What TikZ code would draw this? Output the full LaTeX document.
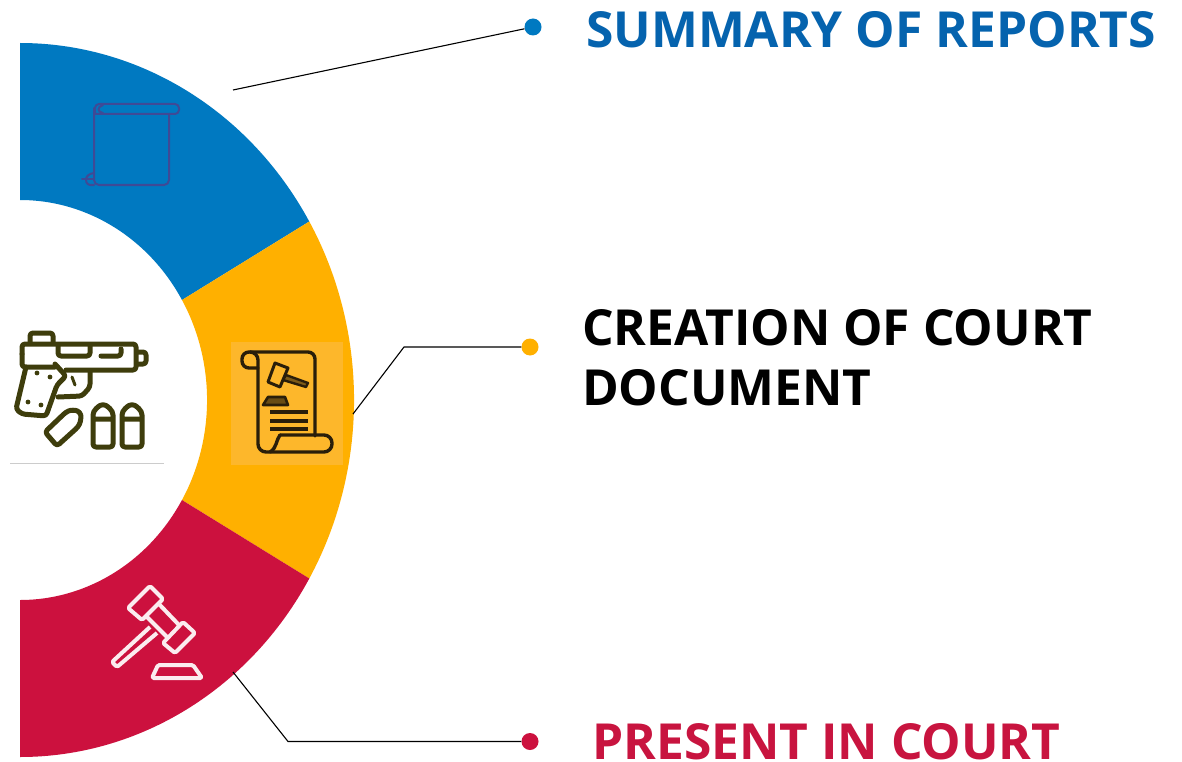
\documentclass[tikz,border=0pt]{standalone}
\usepackage{fontspec}
\setmainfont{Open Sans}
\definecolor{ringblue}{HTML}{0079C1}
\definecolor{ringamber}{HTML}{FFB000}
\definecolor{ringred}{HTML}{CC113E}
\definecolor{txtblue}{HTML}{0563AE}
\definecolor{txtred}{HTML}{C8143F}
\definecolor{gunc}{HTML}{3E3D0C}
\definecolor{docc}{HTML}{2A1E0A}
\definecolor{docbg}{HTML}{FDB72B}
\definecolor{scrollc}{HTML}{3F4A96}
\tikzset{
  x=1pt,y=-1pt,
  dotnode/.style={circle,inner sep=0pt,minimum size=17pt},
  leader/.style={black,line width=1.1pt},
  heading/.style={anchor=base west,inner sep=0pt,font=\fontsize{49.7}{60}\selectfont\bfseries},
  gunline/.style={gunc,line width=5pt,line join=round,line cap=round,rounded corners=3pt},
  docline/.style={docc,line width=3.4pt,line join=round,line cap=round},
  scrollline/.style={scrollc,line width=2pt,line join=round,line cap=round},
  gavelline/.style={white!92!ringred,line width=4pt,line join=round,rounded corners=1.5pt},
}
\begin{document}
\begin{tikzpicture}
\useasboundingbox (0,0) rectangle (1182,762);
\fill[white] (0,0) rectangle (1182,762);
% ring
\fill[ringblue] (20,43) arc[start angle=90,end angle=30,x radius=334pt,y radius=357pt]
  -- (182,300) arc[start angle=30,end angle=90,x radius=187pt,y radius=200pt] -- cycle;
\fill[ringamber] (309.3,221.5) arc[start angle=30,end angle=-30,x radius=334pt,y radius=357pt]
  -- (182,500) arc[start angle=-30,end angle=30,x radius=187pt,y radius=200pt] -- cycle;
\fill[ringred] (309.3,578.5) arc[start angle=-30,end angle=-90,x radius=334pt,y radius=357pt]
  -- (20,600) arc[start angle=-90,end angle=-30,x radius=187pt,y radius=200pt] -- cycle;
% scroll icon (blue)
\draw[scrollline,rounded corners=4pt] (95,114) -- (95,104) -- (179,104) -- (179,114) -- (95,114);
\draw[scrollline] (103,105) .. controls (97,107) and (97,112) .. (103,113);
\draw[scrollline,rounded corners=5pt] (94,108) -- (94,185) -- (169,185) -- (169,114);
\draw[scrollline] (82,179) -- (94,179);
\draw[scrollline] (94,173) .. controls (85,174) and (83,183) .. (90,185) -- (94,185);
% court document icon
\fill[docbg] (231,342) rectangle (343,465);
\draw[docline,rounded corners=7pt] (258,368) -- (242,368) -- (242,352) -- (315,352) -- (315,436);
\draw[docline,rounded corners=8pt] (250,352) -- (258,352) -- (258,452) -- (332,452) -- (332,435) -- (280,435);
\draw[docline] (280,435) .. controls (276,440) and (277,448) .. (270,452);
\draw[docc,line width=3pt,line join=round] (275,363) -- (288,368) -- (280,387) -- (268,382) -- cycle;
\fill[docc!60!docbg,draw=docc,line width=2.4pt,line join=round] (286,375) -- (308,383) -- (306,387) -- (283,380) -- cycle;
\fill[docc!70!docbg,draw=docc,line width=2.6pt,line join=round] (268,397) -- (285,397) -- (288,405) -- (263,405) -- cycle;
\draw[docline,line cap=butt] (270,412) -- (308,412) (270,421) -- (308,421) (270,429) -- (308,429);
% gavel icon
\draw[gavelline] (128,608) -- (150,586) -- (163,599) -- (142,620) -- cycle;
\draw[gavelline] (163,643) -- (183,622) -- (195,633) -- (175,653) -- cycle;
\draw[gavelline] (147,617) -- (168,638) (158,603) -- (179,625);
\draw[gavelline] (150,627) -- (112,662) -- (117,667) -- (157,633);
\draw[gavelline] (158,665) -- (193,665) -- (202,678) -- (152,678) -- cycle;
% gun icon
\draw[black!20,line width=0.8pt] (10,463) -- (164,463);
\draw[gunline] (30,343) -- (30,333) -- (53,333) -- (53,343);
\draw[gunline] (22,354) -- (22,344) -- (136,344) -- (136,370) -- (66,370);
\draw[gunline] (22,354) -- (22,367) -- (55,367);
\draw[gunline] (58,345) -- (58,356) -- (90,356) -- (90,345);
\draw[gunline] (101,356) -- (121,356) -- (121,349);
\draw[gunline] (137,352) -- (146,352) -- (146,364) -- (137,364);
\draw[gunline] (26,367) -- (16,409) -- (22,414) -- (46,416) -- (57,385) -- (66,376) -- (55,364);
\draw[gunline] (58,397) -- (82,396) -- (90,387) -- (90,371);
\draw[gunc,line width=3pt,line cap=round] (72,377) -- (75,385);
\fill[gunc] (37,373) circle[radius=2.4pt] (50,377) circle[radius=2.4pt] (28,402) circle[radius=2.4pt] (41,405) circle[radius=2.4pt];
\draw[gunline] (45,432) -- (57,446) -- (78,427) .. controls (81,421) and (81,416) .. (80,412) .. controls (75,410) and (71,410) .. (66,412) -- cycle;
\draw[gunline] (93,418) .. controls (93,410) and (99,406) .. (103,404) .. controls (107,406) and (113,410) .. (113,418) -- (113,447) -- (93,447) -- cycle (93,419) -- (113,419);
\draw[gunline] (122,418) .. controls (122,410) and (128,406) .. (132,404) .. controls (136,406) and (142,410) .. (142,418) -- (142,447) -- (122,447) -- cycle (122,419) -- (142,419);
% dots, leaders and headings
\node[dotnode,fill=ringblue] (dotA) at (533,27) {};
\node[dotnode,fill=ringamber] (dotB) at (530,347) {};
\node[dotnode,fill=ringred] (dotC) at (530,741.5) {};
\coordinate (startA) at (233,90);
\coordinate (startB) at (353,414);
\coordinate (bendB) at (404,347);
\coordinate (startC) at (233,672);
\coordinate (bendC) at (288,741.5);
\draw[leader] (startA) -- (dotA);
\draw[leader] (startB) -- (bendB) -- (dotB);
\draw[leader] (startC) -- (bendC) -- (dotC);
\node[heading,text=txtblue] (labA) at (586,48) {SUMMARY OF REPORTS};
\node[heading,text=black] (labB) at (582,345.5) {CREATION OF COURT};
\node[heading,text=black] (labB2) at (582,405) {DOCUMENT};
\node[heading,text=txtred] (labC) at (592,759) {PRESENT IN COURT};
\end{tikzpicture}
\end{document}
